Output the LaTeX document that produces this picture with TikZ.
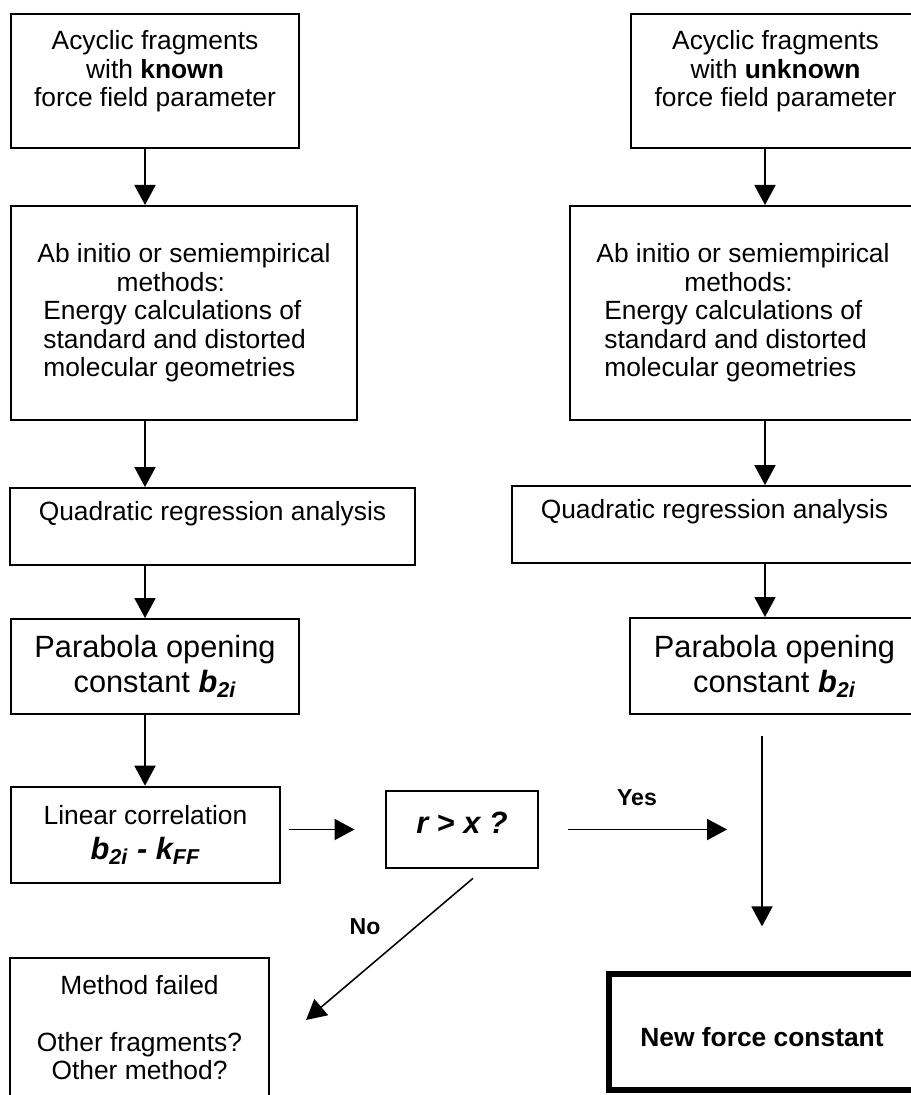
\documentclass[tikz,border=0pt]{standalone}
\usepackage{fontspec}
\setmainfont{Liberation Sans}
\usetikzlibrary{arrows.meta}
\tikzset{
  BoxStyle/.style = { rectangle, draw, line width = 0.9pt, align = center,
                      font = \fontsize{12}{13}\selectfont },
  BoldBox/.style = { BoxStyle, line width = 1.2pt },
  ArrowStyle/.style = { -{Triangle[length=9.1pt,width=9.6pt]},
                        line width = 0.7pt },
  LabelStyle/.style = { font = \fontsize{10.5}{12}\selectfont\bfseries } }

\begin{document}
\begin{tikzpicture}[x=0.455pt, y=-0.455pt]
  \path[use as bounding box, clip] (0,0) rectangle (911,1095);
  \coordinate (cl) at (145,0);
  \coordinate (cr) at (765,0);
  \coordinate (cd) at (762,0);
  \coordinate (noend) at (306,1020);

  % known parameters
  \node[BoxStyle, minimum width=131pt, minimum height=61pt] (kf) at (155,81)
    {Acyclic fragments\\with \textbf{known}\\force field parameter\\[-1.9pt]\mbox{}};
  \node[BoxStyle, align=left, minimum width=157.4pt, minimum height=97.4pt] (kc) at (184,313)
    {Ab initio or semiempirical\\\hspace*{36pt}methods:\\\hspace*{2.7pt}Energy calculations of\\
     \hspace*{2.7pt}standard and distorted\\\hspace*{2.7pt}molecular geometries};
  \node[BoxStyle, minimum width=184.3pt, minimum height=35pt] (kq) at (212.5,526.5)
    {Quadratic regression analysis\\[0.9pt]\mbox{}};
  \node[BoxStyle, font=\fontsize{14}{15.9}\selectfont, minimum width=131pt, minimum height=43.2pt] (kp) at (155,666.5)
    {Parabola opening\\constant {\bfseries\itshape b\textsubscript{2i}}};

  % unknown parameters
  \node[BoxStyle, minimum width=131.5pt, minimum height=61pt] (uf) at (775.5,81)
    {Acyclic fragments\\with \textbf{unknown}\\force field parameter\\[-1.9pt]\mbox{}};
  \node[BoxStyle, align=left, minimum width=157.4pt, minimum height=97.4pt] (uc) at (743,313)
    {Ab initio or semiempirical\\\hspace*{40pt}methods:\\\hspace*{3.6pt}Energy calculations of\\
     \hspace*{3.6pt}standard and distorted\\\hspace*{3.6pt}molecular geometries};
  \node[BoxStyle, minimum width=184.3pt, minimum height=35pt] (uq) at (714.5,524.5)
    {Quadratic regression analysis\\[0.9pt]\mbox{}};
  \node[BoxStyle, font=\fontsize{14}{15.9}\selectfont, minimum width=131.5pt, minimum height=43.7pt] (up) at (774.5,666)
    {Parabola opening\\constant {\bfseries\itshape b\textsubscript{2i}}};

  % correlation and test
  \node[BoldBox, minimum width=122.4pt, minimum height=43.7pt] (lc) at (145.5,835)
    {Linear correlation\\[3pt]{\fontsize{14}{16}\selectfont\bfseries\itshape b\textsubscript{2i} - k\textsubscript{FF}}};
  \node[BoldBox, font=\fontsize{14}{16}\selectfont\bfseries\itshape, minimum width=69.2pt, minimum height=35pt] (rx) at (462,829.5)
    {r > x ?\\[-10pt]\mbox{}};
  \node[BoldBox, minimum width=117.8pt, minimum height=63.2pt] (mf) at (139.5,1027.5)
    {Method failed\\[13pt]Other fragments?\\Other method?};
  \node[BoxStyle, line width=2.7pt, font=\fontsize{12}{13}\selectfont\bfseries, minimum width=139.2pt, minimum height=52.8pt] (nc) at (762,1032)
    {\mbox{}\\[0.4pt]New force constant};

  \node[LabelStyle] (yes) at (637,798) {Yes};
  \node[LabelStyle] (no) at (365,927) {No};

  \draw[ArrowStyle] (kf.south -| cl) -- (kc.north -| cl);
  \draw[ArrowStyle] (kc.south -| cl) -- (kq.north -| cl);
  \draw[ArrowStyle] (kq.south -| cl) -- (kp.north -| cl);
  \draw[ArrowStyle] (kp.south -| cl) -- (lc.north -| cl);

  \draw[ArrowStyle] (uf.south -| cr) -- (uc.north -| cr);
  \draw[ArrowStyle] (uc.south -| cr) -- (uq.north -| cr);
  \draw[ArrowStyle] (uq.south -| cr) -- (up.north -| cr);

  \draw[ArrowStyle, shorten <=3.6pt, shorten >=13.7pt] (lc.east |- rx.west) -- (rx.west);
  \draw[ArrowStyle, shorten <=13.2pt, shorten >=15.9pt] (rx.east) -- (rx.east -| cd);
  \draw[ArrowStyle, shorten <=9.6pt, shorten >=20.3pt] (up.south -| cd) -- (nc.north -| cd);
  \draw[ArrowStyle] ([xshift=5pt,yshift=-4.1pt]rx.south) -- (noend);
\end{tikzpicture}
\end{document}
